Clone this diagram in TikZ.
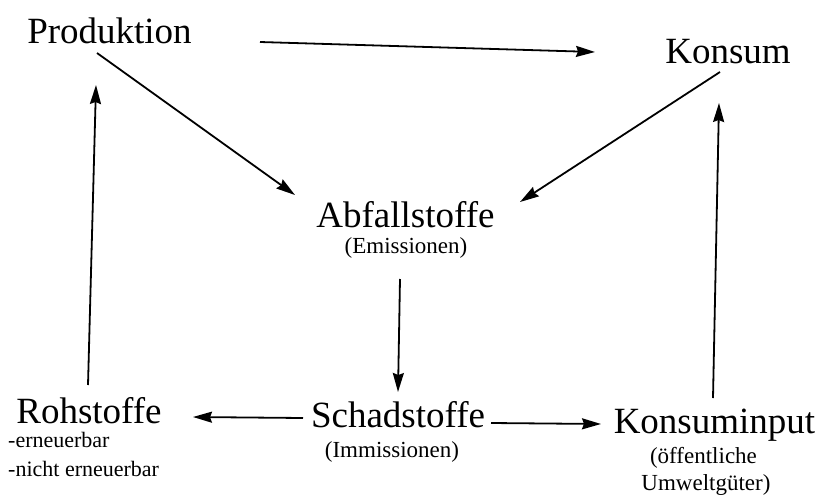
\documentclass[tikz,border=0pt]{standalone}
\usepackage{fontspec}
\setmainfont{Liberation Serif}
\usetikzlibrary{arrows.meta}
\begin{document}
\begin{tikzpicture}[x=1pt,y=-1pt,
  big/.style={inner sep=0pt,anchor=base,font=\fontsize{37}{40}\selectfont},
  small/.style={inner sep=0pt,anchor=base,font=\fontsize{23}{26}\selectfont},
  smallleft/.style={inner sep=0pt,anchor=base west,font=\fontsize{22}{26}\selectfont},
  flow/.style={line width=1.8pt,-{Stealth[length=19pt,width=11pt,inset=2pt]}}]
\useasboundingbox (0,0) rectangle (822,498);
\node[big] (prod) at (109.5,43) {Produktion};
\node[big] (kons) at (728,63) {Konsum};
\node[big] (abf) at (405.5,227) {Abfallstoffe};
\node[small] (emi) at (406,253) {(Emissionen)};
\node[big] (schad) at (398,427) {Schadstoffe};
\node[small] (imm) at (392,457) {(Immissionen)};
\node[big] (roh) at (89,423) {Rohstoffe};
\node[smallleft] (ern1) at (8,447) {-erneuerbar};
\node[smallleft] (ern2) at (8,476) {-nicht erneuerbar};
\node[big] (kinp) at (714.5,433) {Konsuminput};
\node[small] (oeff) at (703.5,463) {(öffentliche};
\node[small] (umw) at (706,490) {Umweltgüter)};
\draw[flow] ([shift={(150.5,-1)}]prod.base) -- ([shift={(-133,-11)}]kons.base);
\draw[flow] ([shift={(-12.5,10)}]prod.base) -- ([shift={(-110.5,-32)}]abf.base);
\draw[flow] ([shift={(-8,9)}]kons.base) -- ([shift={(114.5,-25)}]abf.base);
\draw[flow] ([shift={(-6,26)}]emi.base) -- ([shift={(0,-35)}]schad.base);
\draw[flow] ([shift={(-95,-9)}]schad.base) -- ([shift={(104,-6)}]roh.base);
\draw[flow] ([shift={(93,-4)}]schad.base) -- ([shift={(-113.5,-9)}]kinp.base);
\draw[flow] ([shift={(-1,-38)}]roh.base) -- ([shift={(-13.5,42)}]prod.base);
\draw[flow] ([shift={(-1.5,-35)}]kinp.base) -- ([shift={(-9,40)}]kons.base);
\end{tikzpicture}
\end{document}
